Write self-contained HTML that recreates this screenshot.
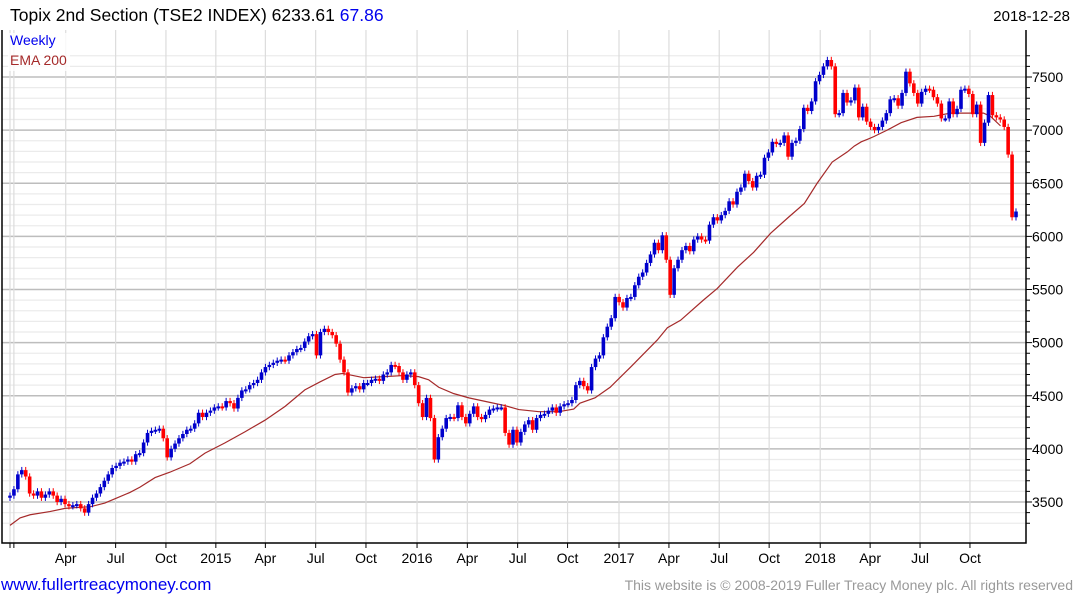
<!DOCTYPE html>
<html><head><meta charset="utf-8"><style>
body{margin:0;background:#fff;width:1075px;height:600px;overflow:hidden;font-family:"Liberation Sans",sans-serif}
svg{display:block}
</style></head><body>
<svg id="chart" width="1075" height="600" xmlns="http://www.w3.org/2000/svg" font-family="Liberation Sans, sans-serif">
<text x="10" y="21" font-size="17.5" fill="#000">Topix 2nd Section (TSE2 INDEX) 6233.61 <tspan fill="#0000ee">67.86</tspan></text>
<text x="1070" y="21" font-size="15" fill="#000" text-anchor="end">2018-12-28</text>
<g id="grid"></g>
<g id="ema"></g>
<g id="candles"></g>
<g id="axes"></g>
<rect x="8" y="33" width="62" height="38" fill="#fff" opacity="0.8"/>
<text x="10" y="45" font-size="14" fill="#0000ee">Weekly</text>
<text x="10" y="65" font-size="14" fill="#a52a2a">EMA 200</text>
<text x="1" y="590" font-size="17" fill="#0000ee">www.fullertreacymoney.com</text>
<text x="1073" y="590" font-size="14" fill="#999" text-anchor="end">This website is © 2008-2019 Fuller Treacy Money plc. All rights reserved</text>
</svg>
<script>
const closes=[3560,3620,3760,3800,3740,3580,3560,3600,3540,3570,3600,3560,3500,3530,3480,3460,3470,3480,3440,3400,3480,3540,3580,3640,3700,3760,3820,3840,3870,3880,3900,3880,3950,3960,4060,4150,4170,4180,4190,4100,3920,4000,4050,4100,4140,4180,4190,4240,4340,4300,4340,4360,4390,4400,4390,4450,4430,4380,4480,4550,4560,4600,4620,4650,4720,4770,4790,4810,4830,4840,4830,4880,4910,4940,4950,5010,5060,5080,4880,5100,5130,5100,5070,4990,4840,
4720,4530,4570,4590,4560,4620,4620,4650,4660,4640,4700,4720,4790,4780,4720,4650,4700,4720,4600,4430,4300,4480,4290,3900,4110,4190,4290,4300,4290,4410,4300,4240,4330,4400,4300,4280,4320,4370,4380,4390,4390,4150,4040,4180,4060,4160,4230,4270,4180,4290,4320,4330,4360,4390,4340,4400,4420,4430,4460,4600,4640,4590,4550,4770,4850,4880,5050,5150,5230,5430,5380,5330,5420,5430,5540,5620,5660,5750,5830,5940,5870,6010,5780,5450,5700,5780,5870,5910,5860,5970,6000,5970,5960,6110,6180,6150,6200,6240,6330,6300,6420,6460,6590,6520,6460,6570,6580,6740,6790,6890,6870,6880,6950,
6750,6880,6900,7010,7210,7180,7270,7460,7520,7600,7660,7600,7150,7160,7350,7260,7280,7400,7120,7220,7080,7030,7000,7030,7090,7160,7290,7300,7230,7350,7550,7440,7350,7250,7360,7390,7380,7310,7250,7110,7110,7270,7150,7200,7380,7390,7340,7150,7240,6880,7070,7330,7140,7120,7100,7030,6770,6180,6234];
const firstOpen=3540;
const emaWeeks=[0,2.6,5.2,10.3,14.2,18.1,20.7,24.5,27.1,31,33.6,37.5,41.3,46.5,50.4,55.5,60.7,65.9,71.1,76.2,80.1,84,86,91.4,96.6,101.7,105.6,108.2,110.8,114.7,118.6,123.7,127.6,131.5,136.7,141.8,145.7,147.3,151.2,155.1,160.4,167.3,169.9,173.3,179.2,182.8,188,192.2,196.6,201.2,205.3,208.6,212.5,216.4,218.2,220,221.7,223.3,226.7,230.3,234.4,238.8,243,247.2,251.6,253.4,256];
const emaVals=[3280,3350,3380,3410,3440,3450,3455,3490,3530,3590,3640,3730,3780,3860,3960,4055,4160,4270,4400,4555,4630,4700,4710,4670,4680,4690,4680,4650,4580,4520,4480,4440,4410,4370,4350,4350,4375,4430,4480,4580,4770,5025,5140,5210,5400,5510,5710,5850,6030,6180,6310,6500,6700,6795,6850,6890,6915,6940,7000,7070,7120,7130,7160,7160,7160,7130,7040];
const yTicks=[3500,4000,4500,5000,5500,6000,6500,7000,7500];
const xLabels=["Apr","Jul","Oct","2015","Apr","Jul","Oct","2016","Apr","Jul","Oct","2017","Apr","Jul","Oct","2018","Apr","Jul","Oct"];
const xLabelWeeks=[14.4,27.3,40.3,53.2,66,79,92,105.2,118.2,131.2,144.1,157.4,170.3,183.3,196.2,209.4,222.3,235.2,248.1];

const NS="http://www.w3.org/2000/svg";
const L=2,R=1026,T=30,B=543,X0=10,X1=1016,TOTALW=260;
function yS(p){return 502-(p-3500)*0.10625;}
function xW(w){return X0+w*(X1-X0)/TOTALW;}
function xI(i){return X0+i*(X1-X0)/(closes.length-1);}
function mk(tag,attrs,parent){const e=document.createElementNS(NS,tag);for(const k in attrs)e.setAttribute(k,attrs[k]);parent.appendChild(e);return e;}
const grid=document.getElementById('grid'),axes=document.getElementById('axes'),cg=document.getElementById('candles'),eg=document.getElementById('ema');
for(let p=3300;p<=7700;p+=100){const y=yS(p);if(y<T||y>B)continue;
 const major=p%500===0;
 const ln=mk('line',{x1:L,x2:R,y1:y,y2:y,stroke:major?'#bdbdbd':'#ebebeb','stroke-width':major?1.5:1.2},grid);
 
 
 const tk=mk('line',{x1:R,x2:R+(major?6:4),y1:y,y2:y,stroke:'#000'},axes);
 
 
}
yTicks.forEach(v=>{const t=mk('text',{x:1032,y:yS(v)+5,'font-size':14,fill:'#000'},axes);t.textContent=v;
 
 });
[0,1].concat(xLabelWeeks).forEach((w,i)=>{const x=i===0?xW(0):(i===1?xW(1):xW(w));
 const ln=mk('line',{x1:x,x2:x,y1:T,y2:B,stroke:'#dcdcdc','stroke-width':1.2},grid);
 
 
 const tk=mk('line',{x1:x,x2:x,y1:B,y2:B+5,stroke:'#000'},axes);
 
 });
xLabels.forEach((s,i)=>{const t=mk('text',{x:xW(xLabelWeeks[i]),y:563,'font-size':14,'text-anchor':'middle',fill:'#000'},axes);t.textContent=s;
 
 });
const fr=mk('path',{d:`M${L},${T} L${L},${B} L${R},${B} L${R},${T}`,fill:'none',stroke:'#000','stroke-width':1.5},axes);


const pl=mk('polyline',{points:emaWeeks.map((w,i)=>xW(w)+','+yS(emaVals[i])).join(' '),fill:'none',stroke:'#a52a2a','stroke-width':1.2},eg);


let prev=firstOpen;
closes.forEach((c,i)=>{const o=prev;prev=c;const x=xI(i);const up=c>=o;const col=up?'#0000cc':'#ff0000';
 const hi=Math.max(o,c)+30,lo=Math.min(o,c)-30;
 const w=mk('line',{x1:x,x2:x,y1:yS(hi),y2:yS(lo),stroke:col,'stroke-width':1},cg);
 
 
 const y1=yS(Math.max(o,c)),h=Math.max(2,yS(Math.min(o,c))-y1);
 const r=mk('rect',{x:x-1.8,y:y1,width:3.6,height:h,fill:col},cg);
 
 
});
</script>
</body></html>
